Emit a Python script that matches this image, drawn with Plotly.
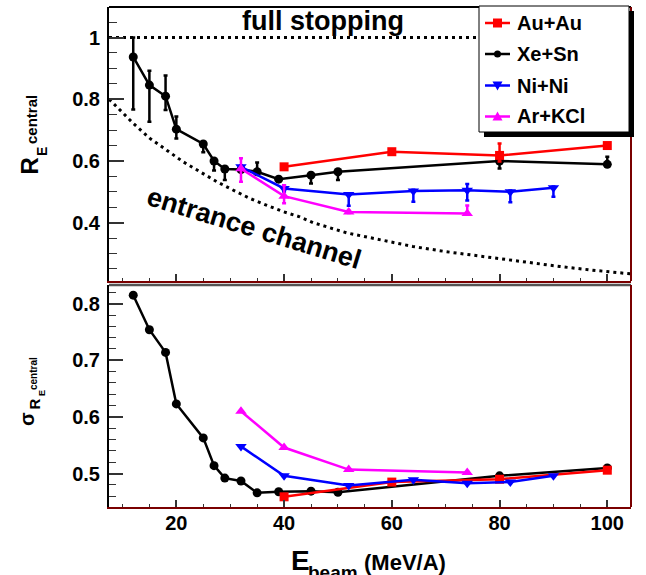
import plotly.graph_objects as go

# ---------------- data ----------------
xe_x = [12, 15, 18, 20, 25, 27, 29, 32, 35, 39, 45, 50, 80, 100]
xe_R = [0.937, 0.846, 0.810, 0.703, 0.655, 0.600, 0.574, 0.572, 0.565, 0.541, 0.554, 0.565, 0.600, 0.589]
xe_Rp = [0.063, 0.046, 0.067, 0.041, 0.004, 0.004, 0.004, 0.004, 0.030, 0.004, 0.004, 0.004, 0.004, 0.025]
xe_Rm = [0.170, 0.119, 0.045, 0.030, 0.027, 0.031, 0.036, 0.004, 0.004, 0.004, 0.027, 0.027, 0.024, 0.004]
xe_S = [0.815, 0.754, 0.714, 0.623, 0.563, 0.514, 0.492, 0.487, 0.466, 0.468, 0.469, 0.467, 0.496, 0.510]

au_x = [40, 60, 80, 100]
au_R = [0.581, 0.630, 0.618, 0.650]
au_Rp = [0.003, 0.003, 0.039, 0.003]
au_Rm = [0.003, 0.003, 0.020, 0.003]
au_S = [0.459, 0.485, 0.490, 0.506]

ni_x = [32, 40, 52, 64, 74, 82, 90]
ni_R = [0.581, 0.511, 0.491, 0.503, 0.505, 0.500, 0.513]
ni_Rp = [0.005, 0.010, 0.004, 0.004, 0.020, 0.004, 0.004]
ni_Rm = [0.005, 0.010, 0.036, 0.035, 0.033, 0.034, 0.029]
ni_S = [0.548, 0.496, 0.479, 0.489, 0.483, 0.485, 0.496]

ar_x = [32, 40, 52, 74]
ar_R = [0.575, 0.486, 0.435, 0.430]
ar_Rp = [0.034, 0.035, 0.004, 0.026]
ar_Rm = [0.042, 0.023, 0.004, 0.004]
ar_S = [0.610, 0.546, 0.507, 0.502]

# entrance channel reference curve
ent_x = [7.5, 8.0, 12.0, 15.1, 18.2, 21.3, 24.4, 27.5, 30.5, 33.6, 36.7, 39.8, 42.9,
         45.4, 51.6, 57.8, 63.9, 70.1, 75.7, 78.8, 85.0, 91.2, 97.3, 103.5, 104.4]
ent_y = [0.800, 0.792, 0.722, 0.673, 0.635, 0.597, 0.565, 0.533, 0.506, 0.479, 0.457, 0.436, 0.419,
         0.400, 0.367, 0.344, 0.323, 0.306, 0.293, 0.285, 0.271, 0.258, 0.246, 0.236, 0.234]
full_x = [7.5, 104.4]
full_y = [1.0, 1.0]

x_ticks = [20, 40, 60, 80, 100]
x_ticktext = ["20", "40", "60", "80", "100"]
yt_ticks = [0.4, 0.6, 0.8, 1.0]
yt_ticktext = ["0.4", "0.6", "0.8", "1"]
yb_ticks = [0.5, 0.6, 0.7, 0.8]
yb_ticktext = ["0.5", "0.6", "0.7", "0.8"]

# ---------------- layout geometry ----------------
W, H = 646, 575
L, R, T, B = 109, 15, 7, 68
PW, PH = W - L - R, H - T - B


def px(x):
    return (x - L) / PW


def py(y):
    return (H - B - y) / PH


FONT = "Liberation Sans"
RED, BLACK, BLUE, MAG, MAROON = "#ff0000", "#000000", "#0000ff", "#ff00ff", "#7a0000"

fig = go.Figure()

# reference curves
fig.add_trace(go.Scatter(x=ent_x, y=ent_y, mode="lines", xaxis="x", yaxis="y",
                         line=dict(color=BLACK, width=3, dash="3px,4px"), showlegend=False,
                         hoverinfo="skip"))
fig.add_trace(go.Scatter(x=full_x, y=full_y, mode="lines", xaxis="x", yaxis="y",
                         line=dict(color=BLACK, width=3, dash="3px,4px"), showlegend=False,
                         hoverinfo="skip"))

series = [
    ("Xe+Sn", xe_x, xe_R, xe_Rp, xe_Rm, xe_S, BLACK, "circle", 9),
    ("Au+Au", au_x, au_R, au_Rp, au_Rm, au_S, RED, "square", 9),
    ("Ni+Ni", ni_x, ni_R, ni_Rp, ni_Rm, ni_S, BLUE, "triangle-down", 10),
    ("Ar+KCl", ar_x, ar_R, ar_Rp, ar_Rm, ar_S, MAG, "triangle-up", 10),
]
for name, xs, r, rp, rm, s, col, sym, msz in series:
    fig.add_trace(go.Scatter(
        x=xs, y=r, mode="lines+markers", name=name, xaxis="x", yaxis="y",
        line=dict(color=col, width=2.5), marker=dict(color=col, symbol=sym, size=msz),
        error_y=dict(type="data", symmetric=False, array=rp, arrayminus=rm,
                     color=col, thickness=2.5, width=2),
        showlegend=False))
    fig.add_trace(go.Scatter(
        x=xs, y=s, mode="lines+markers", name=name, xaxis="x2", yaxis="y2",
        line=dict(color=col, width=2.5), marker=dict(color=col, symbol=sym, size=msz),
        showlegend=False))

tickfont = dict(family=FONT, size=20, color=BLACK, weight="bold")
xcommon = dict(range=[7.5, 104.4], tickmode="array", tickvals=x_ticks, ticktext=x_ticktext,
               ticks="inside", ticklen=7, tickwidth=1.5, tickcolor="#333",
               minor=dict(tickmode="linear", tick0=0, dtick=5, ticks="inside", ticklen=3.5,
                          tickwidth=1.2, tickcolor="#333"),
               showgrid=False, zeroline=False, showline=True, linecolor=MAROON, linewidth=2,
               tickfont=tickfont)

fig.update_layout(
    width=W, height=H, margin=dict(l=L, r=R, t=T, b=B, pad=0),
    paper_bgcolor="white", plot_bgcolor="white",
    xaxis=dict(domain=[0, 1], anchor="y", showticklabels=False, **xcommon),
    xaxis2=dict(domain=[0, 1], anchor="y2", showticklabels=True, matches="x",
                ticklabelstandoff=-3, **xcommon),
    yaxis=dict(domain=[py(281), 1], anchor="x", range=[0.211, 1.099],
               tickmode="array", tickvals=yt_ticks, ticktext=yt_ticktext,
               ticks="inside", ticklen=15, tickwidth=1.5, tickcolor="#333",
               minor=dict(tickmode="linear", tick0=0, dtick=0.05, ticks="inside", ticklen=8,
                          tickwidth=1.2, tickcolor="#333"),
               showgrid=False, zeroline=False, showline=True, linecolor=BLACK, linewidth=2,
               tickfont=tickfont, ticklabelstandoff=3),
    yaxis2=dict(domain=[0, py(285)], anchor="x2", range=[0.441, 0.833],
                tickmode="array", tickvals=yb_ticks, ticktext=yb_ticktext,
                ticks="inside", ticklen=14, tickwidth=1.5, tickcolor="#333",
                minor=dict(tickmode="linear", tick0=0, dtick=0.02, ticks="inside", ticklen=7,
                           tickwidth=1.2, tickcolor="#333"),
                showgrid=False, zeroline=False, showline=True, linecolor=BLACK, linewidth=2,
                tickfont=tickfont, ticklabelstandoff=3),
    showlegend=False,
)

shapes = []
# frame pieces
shapes.append(dict(type="line", xref="paper", yref="paper", x0=px(109), x1=px(631), y0=py(7), y1=py(7),
                   line=dict(color=BLACK, width=2)))
shapes.append(dict(type="line", xref="paper", yref="paper", x0=px(631), x1=px(631), y0=py(7), y1=py(281),
                   line=dict(color=MAROON, width=2)))
shapes.append(dict(type="line", xref="paper", yref="paper", x0=px(109), x1=px(631), y0=py(285), y1=py(285),
                   line=dict(color="#555555", width=2.5)))
shapes.append(dict(type="line", xref="paper", yref="paper", x0=px(631), x1=px(631), y0=py(285), y1=py(507),
                   line=dict(color=MAROON, width=2)))

# ---- manual legend (box, shadow, samples) ----
LX0, LX1, LY0, LY1 = 479, 629, 6, 132
shapes.append(dict(type="rect", xref="paper", yref="paper", x0=px(LX0 + 5), x1=px(LX1 + 5),
                   y0=py(LY1 + 5), y1=py(LY0 + 5), fillcolor=BLACK, line=dict(width=0), layer="above"))
shapes.append(dict(type="rect", xref="paper", yref="paper", x0=px(LX0), x1=px(LX1),
                   y0=py(LY1), y1=py(LY0), fillcolor="white", line=dict(color=BLACK, width=1),
                   layer="above"))
leg_names = ["Au+Au", "Xe+Sn", "Ni+Ni", "Ar+KCl"]
leg_cols = [RED, BLACK, BLUE, MAG]
leg_syms = ["square", "circle", "tdown", "tup"]
leg_y = [23, 54, 85.5, 116.5]
SX0, SX1, SXC = 485, 510, 497.5
for nm, col, sym, yy in zip(leg_names, leg_cols, leg_syms, leg_y):
    shapes.append(dict(type="line", xref="paper", yref="paper", x0=px(SX0), x1=px(SX1),
                       y0=py(yy), y1=py(yy), line=dict(color=col, width=2.5), layer="above"))
    if sym == "square":
        shapes.append(dict(type="rect", xref="paper", yref="paper", x0=px(SXC - 4.5), x1=px(SXC + 4.5),
                           y0=py(yy + 4.5), y1=py(yy - 4.5), fillcolor=col, line=dict(width=0),
                           layer="above"))
    elif sym == "circle":
        shapes.append(dict(type="circle", xref="paper", yref="paper", x0=px(SXC - 3.5), x1=px(SXC + 3.5),
                           y0=py(yy + 3.5), y1=py(yy - 3.5), fillcolor=col, line=dict(width=0),
                           layer="above"))
    else:
        d = 1 if sym == "tdown" else -1
        p = "M {:.5f} {:.5f} L {:.5f} {:.5f} L {:.5f} {:.5f} Z".format(
            px(SXC - 5), py(yy - 4 * d), px(SXC + 5), py(yy - 4 * d), px(SXC), py(yy + 5 * d))
        shapes.append(dict(type="path", xref="paper", yref="paper", path=p, fillcolor=col,
                           line=dict(width=0), layer="above"))
fig.update_layout(shapes=shapes)

ann = []


def txt(text, x, y, size, angle=0, xanchor="center", yanchor="middle"):
    ann.append(dict(text=text, x=px(x), y=py(y), xref="paper", yref="paper", showarrow=False,
                    textangle=angle, xanchor=xanchor, yanchor=yanchor,
                    font=dict(family=FONT, size=size, color=BLACK, weight="bold")))


for nm, yy in zip(leg_names, leg_y):
    txt(nm, 515, yy, 20, xanchor="left")

txt("full stopping", 323, 21, 27)
txt("entrance channel", 253.5, 228, 27, angle=17)
# top y title
txt("R", 29, 166.5, 24, angle=-90)
txt("central", 32, 120, 15, angle=-90)
txt("E", 42, 152, 14, angle=-90)
# bottom y title
txt("σ", 27, 419, 20, angle=-90)
txt("R", 33.5, 404, 15, angle=-90)
txt("central", 33.5, 373.5, 10, angle=-90)
txt("E", 42, 393, 9, angle=-90)
# x title
txt("E", 300.5, 560, 28)
txt("beam", 333, 572, 19)
txt("(MeV/A)", 405, 562, 22)
fig.update_layout(annotations=ann)

fig.write_html("out.html", config={"displayModeBar": False},
               post_script="document.body.style.margin='0';")
